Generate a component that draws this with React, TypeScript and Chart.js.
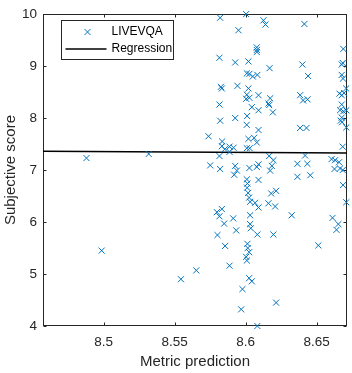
import React, { useEffect, useRef } from "react";
import { Chart, registerables } from "chart.js";

Chart.register(...registerables);

const xValues = [
  8.4879, 8.4986, 8.5317, 8.5544, 8.5652, 8.5738, 8.575, 8.5815, 8.582, 8.5825,
  8.5832, 8.5815, 8.582, 8.5834, 8.5832, 8.5852, 8.5886, 8.5914, 8.5886, 8.5815,
  8.582, 8.5926, 8.5938, 8.5919, 8.5797, 8.5832, 8.5815, 8.5848, 8.5912, 8.5933,
  8.5801, 8.5855, 8.5886, 8.5977, 8.5968, 8.5926, 8.5942, 8.5926, 8.5949, 8.6003,
  8.6019, 8.6008, 8.6026, 8.605, 8.6082, 8.6019, 8.6008, 8.6003, 8.6026, 8.609,
  8.6043, 8.609, 8.601, 8.6007, 8.609, 8.6019, 8.6059, 8.6078, 8.6008, 8.6028,
  8.6026, 8.6078, 8.609, 8.6008, 8.6012, 8.601, 8.6017, 8.6024, 8.6031, 8.609,
  8.6031, 8.6031, 8.6036, 8.6082, 8.6012, 8.6014, 8.6024, 8.6003, 8.6008, 8.6024,
  8.6043, 8.6082, 8.6066, 8.609, 8.6078, 8.6078, 8.6078, 8.6125, 8.6139, 8.6168,
  8.6172, 8.616, 8.6165, 8.6191, 8.6165, 8.6195, 8.6184, 8.6172, 8.6179, 8.6214,
  8.616, 8.6207, 8.6195, 8.6214, 8.6324, 8.6364, 8.6418, 8.6434, 8.6364, 8.6455,
  8.6383, 8.6404, 8.6435, 8.6383, 8.6428, 8.6413, 8.6399, 8.6439, 8.6511, 8.6611,
  8.6652, 8.6639, 8.6604, 8.6629, 8.6657, 8.6664, 8.6625, 8.6683, 8.6685, 8.6708,
  8.6683, 8.6708, 8.6676, 8.6669, 8.6678, 8.6676, 8.6664, 8.6687, 8.6708, 8.666,
  8.6676, 8.6692, 8.6707, 8.6676, 8.6685, 8.6676, 8.6683, 8.6687,
];

const yValues = [
  7.23, 5.45, 7.31, 4.9, 5.07, 7.65, 7.09, 9.16, 9.93, 8.6,
  8.57, 8.26, 7.95, 7.55, 7.46, 7.4, 7.45, 7.43, 7.35, 7.27,
  7.02, 7.08, 6.99, 6.91, 6.19, 6.25, 6.11, 5.97, 6.07, 5.84,
  5.75, 5.54, 5.16, 4.71, 4.32, 9.07, 8.62, 8.0, 9.69, 10.0,
  9.09, 8.86, 8.85, 8.8, 8.83, 8.57, 8.45, 8.37, 8.39, 8.44,
  8.21, 8.15, 8.04, 7.87, 7.77, 7.6, 7.62, 7.53, 7.42, 7.42,
  7.04, 7.06, 7.11, 6.82, 6.74, 6.66, 6.56, 6.47, 6.39, 6.81,
  6.13, 5.96, 5.88, 5.76, 5.58, 5.5, 5.42, 5.33, 5.26, 4.92,
  4.86, 4.0, 6.37, 6.28, 9.36, 9.31, 9.27, 9.88, 9.8, 8.96,
  8.38, 8.28, 8.25, 8.11, 7.27, 7.19, 7.08, 6.99, 6.55, 6.6,
  6.36, 6.3, 5.76, 4.45, 6.13, 7.12, 7.28, 7.12, 6.87, 6.9,
  8.44, 8.34, 8.36, 7.81, 7.81, 9.81, 9.03, 8.81, 5.55, 6.08,
  5.96, 5.85, 7.21, 7.19, 7.15, 7.03, 7.02, 7.0, 6.71, 6.38,
  7.45, 7.82, 8.01, 7.95, 7.92, 8.26, 8.15, 8.13, 8.15, 8.47,
  8.44, 8.48, 8.57, 8.83, 8.76, 9.03, 9.06, 9.33,
];

const regressionX = [8.4573, 8.6713];
const regressionY = [7.36, 7.33];

const xTicks = [8.5, 8.55, 8.6, 8.65];
const yTicks = [4, 5, 6, 7, 8, 9, 10];
const xRange = [8.4573, 8.6713];
const yRange = [4, 10];

const seriesLabel = "LIVEVQA";
const regressionLabel = "Regression";
const xTitle = "Metric prediction";
const yTitle = "Subjective score";

const BLUE = "#0072BD";
const AXIS = "#262626";
const FONT = "'Liberation Sans', Arial, Helvetica, sans-serif";

const framePlugin = {
  id: "frame",
  beforeDatasetsDraw(chart: any) {
    const { ctx, chartArea: a, scales } = chart;
    const L = Math.round(a.left) + 0.5;
    const R = Math.round(a.right) - 0.5;
    const T = Math.round(a.top) + 0.5;
    const B = Math.round(a.bottom) - 0.5;
    ctx.save();
    ctx.strokeStyle = AXIS;
    ctx.lineWidth = 1;
    ctx.strokeRect(L, T, R - L, B - T);
    const tl = 3;
    ctx.beginPath();
    for (const v of xTicks) {
      const px = Math.round(scales.x.getPixelForValue(v)) + 0.5;
      ctx.moveTo(px, B);
      ctx.lineTo(px, B - tl);
      ctx.moveTo(px, T);
      ctx.lineTo(px, T + tl);
    }
    for (const v of yTicks) {
      const py = Math.round(scales.y.getPixelForValue(v)) + 0.5;
      ctx.moveTo(L, py);
      ctx.lineTo(L + tl, py);
      ctx.moveTo(R, py);
      ctx.lineTo(R - tl, py);
    }
    ctx.stroke();
    ctx.restore();
  },
};

const legendPlugin = {
  id: "boxLegend",
  afterDatasetsDraw(chart: any) {
    const { ctx, chartArea: a } = chart;
    const ds = chart.data.datasets;
    const x0 = Math.round(a.left + 18) + 0.5;
    const y0 = Math.round(a.top + 6) + 0.5;
    const w = 112;
    const h = 39;
    ctx.save();
    ctx.fillStyle = "#ffffff";
    ctx.fillRect(x0, y0, w, h);
    ctx.strokeStyle = AXIS;
    ctx.lineWidth = 1;
    ctx.strokeRect(x0, y0, w, h);
    // row 1: marker
    const r1 = y0 + 11.5;
    const mx = x0 + 26;
    const d = 3;
    ctx.strokeStyle = ds[0].borderColor;
    ctx.beginPath();
    ctx.moveTo(mx - d, r1 - d);
    ctx.lineTo(mx + d, r1 + d);
    ctx.moveTo(mx + d, r1 - d);
    ctx.lineTo(mx - d, r1 + d);
    ctx.stroke();
    // row 2: line
    const r2 = y0 + 28.5;
    ctx.strokeStyle = ds[1].borderColor;
    ctx.lineWidth = 1.5;
    ctx.beginPath();
    ctx.moveTo(x0 + 4, r2);
    ctx.lineTo(x0 + 45, r2);
    ctx.stroke();
    ctx.fillStyle = "#000000";
    ctx.font = `12px ${FONT}`;
    ctx.textBaseline = "middle";
    ctx.textAlign = "left";
    ctx.fillText(ds[0].label, x0 + 50, r1);
    ctx.fillText(ds[1].label, x0 + 50, r2);
    ctx.restore();
  },
};

export default function App() {
  const ref = useRef<HTMLCanvasElement | null>(null);

  useEffect(() => {
    if (!ref.current) return;
    const points = xValues.map((x, i) => ({ x, y: yValues[i] }));
    const line = regressionX.map((x, i) => ({ x, y: regressionY[i] }));
    const chart = new Chart(ref.current, {
      type: "scatter",
      data: {
        datasets: [
          {
            label: seriesLabel,
            data: points,
            pointStyle: "crossRot",
            pointRadius: 4.3,
            borderColor: BLUE,
            backgroundColor: BLUE,
            pointBorderWidth: 1,
            showLine: false,
            clip: false,
          } as any,
          {
            label: regressionLabel,
            data: line,
            showLine: true,
            pointRadius: 0,
            borderColor: "#000000",
            borderWidth: 1.5,
            backgroundColor: "#000000",
          } as any,
        ],
      },
      options: {
        animation: false,
        responsive: false,
        events: [],
        layout: { autoPadding: false, padding: { top: 8, right: 5, left: 0, bottom: 0 } } as any,
        plugins: { legend: { display: false }, tooltip: { enabled: false } },
        scales: {
          x: {
            type: "linear",
            min: xRange[0],
            max: xRange[1],
            grid: { display: false, drawTicks: false },
            border: { display: false },
            afterBuildTicks: (s: any) => {
              s.ticks = xTicks.map((v) => ({ value: v }));
            },
            afterFit: (s: any) => {
              s.height = 47;
            },
            ticks: {
              color: AXIS,
              padding: 8,
              maxRotation: 0,
              font: { family: FONT, size: 13.5 },
              callback: (v: any) => String(v),
            },
            title: {
              display: true,
              text: xTitle,
              color: AXIS,
              font: { family: FONT, size: 15 },
              padding: { top: 0, bottom: 2 },
            },
          },
          y: {
            type: "linear",
            min: yRange[0],
            max: yRange[1],
            grid: { display: false, drawTicks: false },
            border: { display: false },
            afterBuildTicks: (s: any) => {
              s.ticks = yTicks.map((v) => ({ value: v }));
            },
            afterFit: (s: any) => {
              s.width = 43;
            },
            ticks: {
              color: AXIS,
              padding: 6,
              font: { family: FONT, size: 13.5 },
              callback: (v: any) => String(v),
            },
            title: {
              display: true,
              text: yTitle,
              color: AXIS,
              font: { family: FONT, size: 15 },
              padding: { top: 2, bottom: 0 },
            },
          },
        },
      },
      plugins: [framePlugin, legendPlugin],
    });
    return () => chart.destroy();
  }, []);

  return (
    <div style={{ position: "fixed", left: 0, top: 0, width: 352, height: 373, background: "#fff" }}>
      <canvas ref={ref} width={352} height={373} />
    </div>
  );
}
